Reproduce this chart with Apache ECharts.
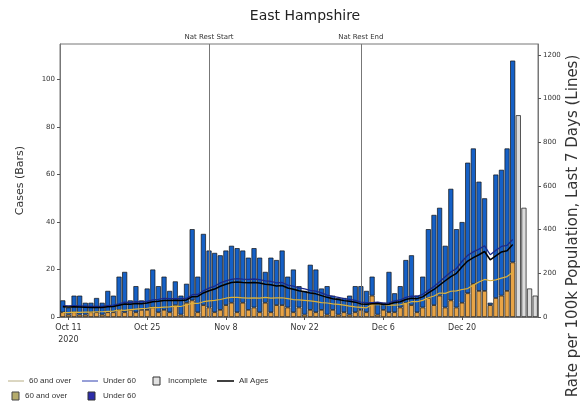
<!DOCTYPE html>
<html><head><meta charset="utf-8">
<script src="https://cdn.jsdelivr.net/npm/echarts@6/dist/echarts.min.js"></script>
<style>html,body{margin:0;padding:0;background:#fff}#c{width:580px;height:407px}</style>
</head><body><div id="c"></div>
<script>
// ---- data ----
const startDate = [2020, 9, 10]; // Oct 10 2020
const dayCount = 85;
const over60Cases = [2,1,2,1,1,2,2,1,2,2,3,2,3,2,3,3,4,2,3,2,5,1,6,7,2,5,4,2,3,5,6,2,6,3,4,2,6,2,5,5,4,2,4,1,3,2,3,1,3,1,2,1,2,3,2,9,1,3,2,2,4,6,5,2,4,8,5,9,4,7,4,6,10,14,11,11,5,8,9,11,23];
const under60Cases = [5,3,7,8,5,4,6,5,9,7,14,17,4,11,4,9,16,11,14,9,10,8,8,30,15,30,24,25,23,23,24,27,22,22,25,23,13,23,19,23,13,18,9,10,19,18,9,12,6,7,6,8,11,10,9,8,5,3,17,8,9,18,21,7,13,29,38,37,26,47,33,34,55,57,46,39,1,52,53,60,85];
const incompleteCases = [85,46,12,9];
const rateOver60 = [20,20,22,21,22,22,24,24,26,27,32,30,34,36,38,40,44,43,45,46,50,48,56,62,62,70,74,76,80,86,90,90,88,86,88,86,90,86,88,88,84,80,78,76,74,70,66,64,60,58,54,50,46,44,42,56,56,56,54,54,56,62,70,70,76,88,96,110,108,118,120,126,130,146,160,172,166,170,178,185,205];
const rateUnder60 = [52,51,52,51,50,49,49,49,52,54,60,68,66,70,69,72,78,81,85,84,84,84,85,102,103,120,132,141,156,165,172,176,173,172,174,171,165,163,156,158,146,141,133,129,122,118,110,100,94,90,84,81,76,68,66,66,68,63,65,74,78,90,96,95,104,122,140,161,184,206,222,255,282,298,311,326,285,305,323,328,355];
const rateAllAges = [47,46,47,46,45,44,44,44,47,48,54,60,58,62,61,64,70,72,76,76,77,76,78,93,94,110,120,128,141,150,158,160,158,157,158,156,150,148,142,144,133,127,120,116,110,106,98,90,84,80,75,72,68,60,58,61,62,57,58,66,70,80,86,84,92,110,126,146,166,185,200,230,256,272,285,300,262,280,298,303,332];
const tickDates = ['Oct 11','Oct 25','Nov 8','Nov 22','Dec 6','Dec 20'];
const eventDates = ['Nov 5','Dec 2'];
const eventLabels = ['Nat Rest Start','Nat Rest End'];
const leftTicks = [0,20,40,60,80,100];
const rightTicks = [0,200,400,600,800,1000,1200];

// ---- build ----
const MONTHS = ['Jan','Feb','Mar','Apr','May','Jun','Jul','Aug','Sep','Oct','Nov','Dec'];
const categories = [];
for (let i = 0; i < dayCount; i++) {
  const d = new Date(Date.UTC(startDate[0], startDate[1], startDate[2] + i));
  categories.push(MONTHS[d.getUTCMonth()] + ' ' + d.getUTCDate());
}
const pad = (arr) => arr.concat(new Array(dayCount - arr.length).fill(null));
const incompleteFull = new Array(dayCount - incompleteCases.length).fill(null).concat(incompleteCases);
const showIdx = (idx) => tickDates.indexOf(categories[idx]) >= 0;

const chart = echarts.init(document.getElementById('c'), null, {renderer: 'canvas'});
const txt = '#333';
const legendFont = 8;
chart.setOption({
  animation: false,
  backgroundColor: '#fff',
  title: {text: 'East Hampshire', left: 300, top: 4, textAlign: 'center',
    textStyle: {fontSize: 14, fontWeight: 'normal', color: '#222', fontFamily: 'DejaVu Sans'}},
  grid: {left: 60, right: 42, top: 44, bottom: 90, show: true, borderColor: '#777', borderWidth: 1, backgroundColor: '#fff'},
  textStyle: {fontFamily: 'DejaVu Sans'},
  xAxis: {
    type: 'category', data: categories, boundaryGap: true,
    axisLine: {lineStyle: {color: '#777'}},
    axisTick: {show: true, alignWithLabel: true, interval: (i) => showIdx(i), lineStyle: {color: '#555'}, length: 3},
    axisLabel: {interval: (i) => showIdx(i), fontSize: 8, color: txt, margin: 5, lineHeight: 12,
      formatter: (v) => v === 'Oct 11' ? 'Oct 11\n2020' : v}
  },
  yAxis: [
    {type: 'value', min: 0, max: 115, name: 'Cases (Bars)', nameLocation: 'middle', nameGap: 34, nameRotate: 90,
      nameTextStyle: {fontSize: 11, color: txt},
      axisLine: {show: true, lineStyle: {color: '#777'}},
      axisTick: {show: true, customValues: leftTicks, length: 3, lineStyle: {color: '#555'}},
      axisLabel: {customValues: leftTicks, fontSize: 7, color: txt, margin: 5, formatter: (v) => String(v)},
      splitLine: {show: false}},
    {type: 'value', min: 0, max: 1250, position: 'right',
      axisLine: {show: true, lineStyle: {color: '#777'}},
      axisTick: {show: true, customValues: rightTicks, length: 3, lineStyle: {color: '#555'}},
      axisLabel: {customValues: rightTicks, fontSize: 7, color: txt, margin: 5, formatter: (v) => String(v)},
      splitLine: {show: false}}
  ],
  series: [
    {name: '60 and over', type: 'bar', stack: 'cases', data: pad(over60Cases), barCategoryGap: '10%',
      itemStyle: {color: '#e8a446', borderColor: '#111', borderWidth: 0.7},
      markLine: {symbol: 'none', silent: true, lineStyle: {color: '#777', width: 1, type: 'solid'},
        label: {position: 'end', fontSize: 7, color: txt, distance: 3, formatter: (p) => p.name},
        data: eventDates.map((d, k) => ({xAxis: d, name: eventLabels[k]}))}},
    {name: 'Under 60', type: 'bar', stack: 'cases', data: pad(under60Cases),
      itemStyle: {color: '#1560c6', borderColor: '#111', borderWidth: 0.7}},
    {name: 'Incomplete', type: 'bar', stack: 'cases', data: incompleteFull,
      itemStyle: {color: '#dcdcdc', borderColor: '#111', borderWidth: 0.7}},
    {name: 'Rate 60 and over', type: 'line', yAxisIndex: 1, data: pad(rateOver60), showSymbol: false, z: 5,
      lineStyle: {color: '#dcb13a', width: 1.2}},
    {name: 'Rate Under 60', type: 'line', yAxisIndex: 1, data: pad(rateUnder60), showSymbol: false, z: 5,
      lineStyle: {color: '#1b2a8c', width: 1.3}},
    {name: 'All Ages', type: 'line', yAxisIndex: 1, data: pad(rateAllAges), showSymbol: false, z: 6,
      lineStyle: {color: '#000', width: 1.5}}
  ],
  graphic: [
    {type: 'text', x: 573, y: 226, rotation: Math.PI / 2,
      style: {text: 'Rate per 100k Population, Last 7 Days (Lines)', fontSize: 15, fill: txt, align: 'center', verticalAlign: 'middle', fontFamily: 'DejaVu Sans'}},
    {type: 'line', shape: {x1: 8, y1: 381, x2: 24, y2: 381}, style: {stroke: '#b8ae84', lineWidth: 1}},
    {type: 'text', x: 29, y: 381, style: {text: '60 and over', fontSize: legendFont, fill: txt, verticalAlign: 'middle'}},
    {type: 'line', shape: {x1: 82, y1: 381, x2: 98, y2: 381}, style: {stroke: '#3040b0', lineWidth: 1}},
    {type: 'text', x: 103, y: 381, style: {text: 'Under 60', fontSize: legendFont, fill: txt, verticalAlign: 'middle'}},
    {type: 'rect', shape: {x: 153, y: 377, width: 7, height: 8}, style: {fill: '#e2e2e2', stroke: '#333', lineWidth: 1}},
    {type: 'text', x: 168, y: 381, style: {text: 'Incomplete', fontSize: legendFont, fill: txt, verticalAlign: 'middle'}},
    {type: 'line', shape: {x1: 217, y1: 381, x2: 234, y2: 381}, style: {stroke: '#000', lineWidth: 1.5}},
    {type: 'text', x: 239, y: 381, style: {text: 'All Ages', fontSize: legendFont, fill: txt, verticalAlign: 'middle'}},
    {type: 'rect', shape: {x: 12, y: 392, width: 7, height: 8}, style: {fill: '#b4ab6c', stroke: '#444', lineWidth: 1}},
    {type: 'text', x: 25, y: 396, style: {text: '60 and over', fontSize: legendFont, fill: txt, verticalAlign: 'middle'}},
    {type: 'rect', shape: {x: 88, y: 392, width: 7, height: 8}, style: {fill: '#2c2ca8', stroke: '#333', lineWidth: 1}},
    {type: 'text', x: 103, y: 396, style: {text: 'Under 60', fontSize: legendFont, fill: txt, verticalAlign: 'middle'}}
  ]
});
</script></body></html>
